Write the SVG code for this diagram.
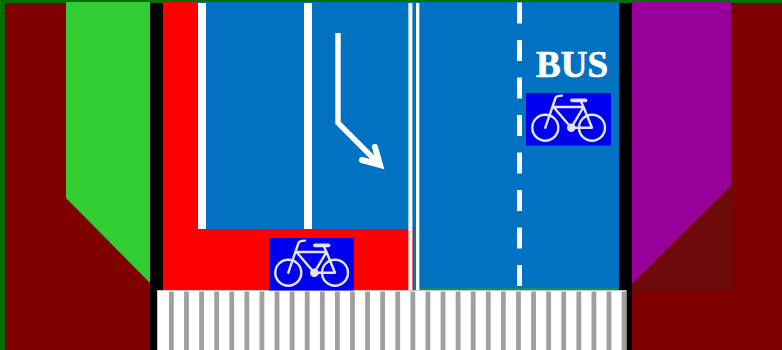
<svg xmlns="http://www.w3.org/2000/svg" width="782" height="350" viewBox="0 0 782 350">
<style>
.bike{fill:none;stroke:#e4e4f2;stroke-width:2.400;stroke-linecap:round;stroke-linejoin:round}
.mark{fill:#fff}
</style>
<defs>
<g id="bike-sign">
<rect width="85" height="52.5" fill="#0000f0"/>
<g class="bike">
<circle cx="19.3" cy="34.7" r="13"/>
<circle cx="66" cy="34.7" r="13"/>
<path d="M19.300 34.700L29.500 5Q30.300 2.600 36 2.600M27.500 14H57.500M27.500 14L45.300 34.700L57.500 14L66 34.700H45.300M57.500 14L54.500 7.500"/>
<path d="M46 7.300H59.500" stroke-width="3.800"/>
</g>
<circle cx="45.300" cy="34.700" r="4.300" fill="#e4e4f2"/>
</g>
</defs>
<rect id="background" width="782" height="350" fill="#006f00"/>
<g id="ground">
<rect x="5" y="3" width="777" height="347" fill="#800000"/>
</g>
<g id="left-verge">
<path d="M66 2H150V283L66 198Z" fill="#32cd32"/>
</g>
<g id="right-verge">
<path d="M632 2H731V186L632 284Z" fill="#990099"/>
<path d="M632 284L731 186L733 186V291H632Z" fill="#6f0a0a"/>
</g>
<g id="carriageway">
<rect x="163" y="2" width="456" height="288" fill="#0072c1"/>
<path d="M163 2H198V229H413.500V290H163Z" fill="#ff0000"/>
<rect x="419" y="288" width="200" height="2" fill="#0c8f70"/>
</g>
<g id="kerbs">
<rect x="150" y="3" width="13" height="347" fill="#000"/>
<rect x="619" y="3" width="13" height="347" fill="#000"/>
</g>
<g id="lane-markings">
<rect class="mark" x="198" y="3" width="8" height="226"/>
<rect class="mark" x="304" y="3" width="8" height="226"/>
<rect class="mark" x="408.400" y="3" width="4" height="287"/>
<rect class="mark" x="416" y="3" width="3.300" height="287"/>
<path d="M519.500 2.500V290" stroke="#fff" stroke-width="5" stroke-dasharray="21 16.500" fill="none"/>
</g>
<g id="connectors">
<path d="M338 33V123L378 163" fill="none" stroke="#fff" stroke-width="5.400"/>
<path d="M375 147L380 165L362 160" fill="none" stroke="#fff" stroke-width="6" stroke-linecap="round"/>
<path d="M384 169L368 163L378 153Z" fill="#fff"/>
</g>
<g id="crossing">
<rect x="157.500" y="290.500" width="468.500" height="60" fill="#fff" stroke="#c8c8c8" stroke-width="1"/>
<line x1="169" y1="321" x2="626.500" y2="321" stroke="#a0a0a0" stroke-width="59" stroke-dasharray="4.800 10.290"/>
</g>
<g id="cycle-sign-lane">
<use href="#bike-sign" x="269" y="238"/>
</g>
<g id="bus-lane-label">
<use href="#bike-sign" x="526" y="93"/>
<text x="572" y="76.500" text-anchor="middle" font-family="'Liberation Serif',serif" font-weight="bold" font-size="37" fill="#fff" stroke="#fff" stroke-width="0.700">BUS</text>
</g>
</svg>
